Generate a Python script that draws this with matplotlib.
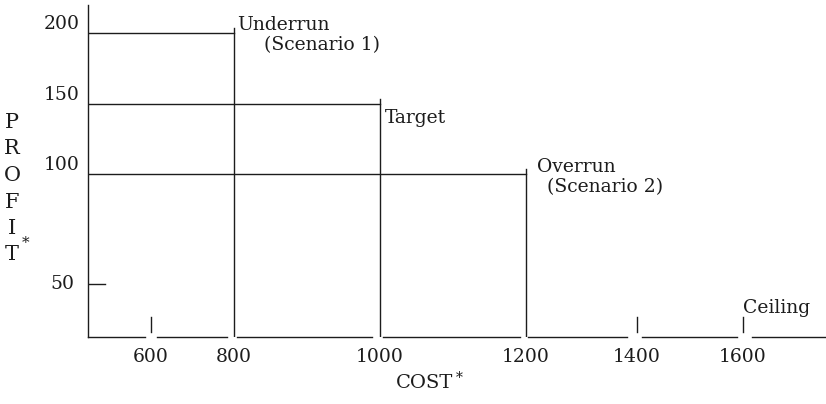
import numpy as np
import matplotlib
matplotlib.use('Agg')
import matplotlib.pyplot as plt

plt.rcParams['font.family'] = ['DejaVu Serif']

# Data
cost_ticks = [600, 800, 1000, 1200, 1400, 1600]
marked_ticks = [600, 1400, 1600]
profit_ticks = [50, 100, 150, 200]
scenario_cost = [800, 1000, 1200]
scenario_profit = [200, 150, 100]
ceiling_cost = 1600

# The printed axes are schematic (not evenly spaced), so use piecewise scales
x_knots = [448, 600, 800, 1000, 1200, 1400, 1600, 1757]
x_pos = [0, 63, 146, 292, 438, 549, 655, 738]
y_knots = [0, 50, 100, 150, 200, 220]
y_pos = [0, 53, 163, 233, 304, 332]

ink = '#1c1c1c'
lw = 1.0

fig = plt.figure(figsize=(8.26, 4.04), dpi=100)
ax = fig.add_axes([88 / 826, 67 / 404, 738 / 826, 332 / 404])
ax.set_xscale('function', functions=(lambda v: np.interp(v, x_knots, x_pos),
                                     lambda p: np.interp(p, x_pos, x_knots)))
ax.set_yscale('function', functions=(lambda v: np.interp(v, y_knots, y_pos),
                                     lambda p: np.interp(p, y_pos, y_knots)))
x0, x1 = x_knots[0], x_knots[-1]
ax.set_xlim(x0, x1)
ax.set_ylim(0, 220)
for s in ax.spines.values():
    s.set_visible(False)

# y axis
ax.plot([x0, x0], [0, 220], color=ink, lw=lw, clip_on=False)

# x axis, broken around each tick
axis_gaps = [(586, 614), (783, 804), (989, 1004), (1192, 1204), (1382, 1409), (1589, 1617)]
start = x0
for g0, g1 in axis_gaps:
    ax.plot([start, g0], [0, 0], color=ink, lw=lw, clip_on=False)
    start = g1
ax.plot([start, x1], [0, 0], color=ink, lw=lw, clip_on=False)

# short tick marks standing above the axis
for c in marked_ticks:
    ax.plot([c, c], [5, 19], color=ink, lw=lw)
ax.plot([x0, 489], [50, 50], color=ink, lw=lw)

# scenario lines
for c, p in zip(scenario_cost, scenario_profit):
    ax.plot([x0, c], [p, p], color=ink, lw=lw)
    ax.plot([c, c], [0, p + 3.5], color=ink, lw=lw)

# tick labels
ax.set_xticks(cost_ticks)
ax.set_xticklabels([str(c) for c in cost_ticks])
ax.set_yticks([])
ax.tick_params(axis='x', length=0, pad=8, labelsize=13.5, colors=ink)
for p in profit_ticks:
    if p == 50:
        ax.text(-0.019, p, str(p), transform=ax.get_yaxis_transform(),
                ha='right', va='center', fontsize=13.5, color=ink)
    else:
        ax.text(-0.011, p, str(p), transform=ax.get_yaxis_transform(),
                ha='right', va='bottom', fontsize=13.5, color=ink)

# annotations
notes = [('Underrun', 800, 200, 3, 3),
         ('(Scenario 1)', 800, 200, 30, -17),
         ('Target', 1000, 150, 5, -19),
         ('Overrun', 1200, 100, 11, 2),
         ('(Scenario 2)', 1200, 100, 21, -18),
         ('Ceiling', ceiling_cost, 0, 0, 24)]
for txt, c, p, dx, dy in notes:
    ax.annotate(txt, xy=(c, p), xytext=(dx, dy), textcoords='offset pixels',
                ha='left', va='baseline', fontsize=13.5, color=ink)

# axis titles
fig.text(12 / 826, 1 - 113 / 404, '\n'.join('PROFIT'), ha='center', va='top',
         fontsize=15, color=ink, linespacing=1.5)
fig.text(22 / 826, 1 - 236 / 404, '*', ha='left', va='top', fontsize=11, color=ink)
fig.text(425 / 826, 1 - 388 / 404, 'COST', ha='center', va='baseline',
         fontsize=14, color=ink)
fig.text(456 / 826, 1 - 371 / 404, '*', ha='left', va='top', fontsize=10, color=ink)

fig.savefig('out.png', dpi=100, facecolor='white')
